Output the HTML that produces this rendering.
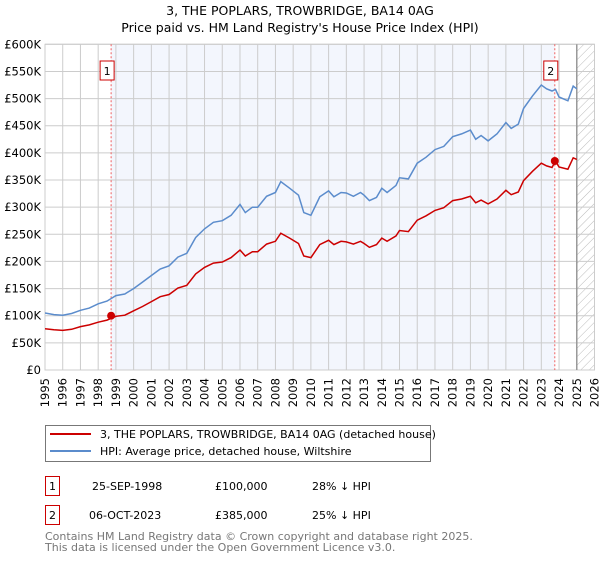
<!DOCTYPE html>
<html><head><meta charset="utf-8"><style>
body{margin:0;background:#fff;}
svg text{font-family:"DejaVu Sans","Liberation Sans",sans-serif;}
</style></head><body>
<svg id="chart" width="600" height="560" xmlns="http://www.w3.org/2000/svg">
<defs>
<pattern id="hatch" width="6" height="6" patternUnits="userSpaceOnUse" patternTransform="rotate(45)">
<line x1="0" y1="0" x2="0" y2="6" stroke="#bbb" stroke-width="1"/></pattern>
<clipPath id="clip"><rect x="45" y="44" width="550" height="326"/></clipPath>
</defs>
<text x="300" y="15" text-anchor="middle" font-size="12.5">3, THE POPLARS, TROWBRIDGE, BA14 0AG</text>
<text x="300" y="32" text-anchor="middle" font-size="12.5">Price paid vs. HM Land Registry's House Price Index (HPI)</text>
<g id="plot"></g>
<g>
<rect x="45.5" y="425.5" width="385" height="36" fill="#fff" stroke="#777"/>
<line x1="50" y1="434" x2="91" y2="434" stroke="#cc0000" stroke-width="2"/>
<text x="100" y="438" font-size="11">3, THE POPLARS, TROWBRIDGE, BA14 0AG (detached house)</text>
<line x1="50" y1="451" x2="91" y2="451" stroke="#5b8ccc" stroke-width="2"/>
<text x="100" y="455" font-size="11">HPI: Average price, detached house, Wiltshire</text>
</g>
<g font-size="11">
<rect x="45.5" y="476.5" width="14" height="19" fill="#fff" stroke="#cc0000"/>
<text x="52.5" y="490" text-anchor="middle">1</text>
<text x="92" y="490">25-SEP-1998</text><text x="215" y="490">£100,000</text><text x="312" y="490">28% ↓ HPI</text>
<rect x="45.5" y="505.5" width="14" height="19" fill="#fff" stroke="#cc0000"/>
<text x="52.5" y="519" text-anchor="middle">2</text>
<text x="89" y="519">06-OCT-2023</text><text x="215" y="519">£385,000</text><text x="312" y="519">25% ↓ HPI</text>
</g>
<text x="45" y="540" font-size="11" fill="#777">Contains HM Land Registry data © Crown copyright and database right 2025.</text>
<text x="45" y="551" font-size="11" fill="#777">This data is licensed under the Open Government Licence v3.0.</text>
</svg>
<script>
const dates=[1995,1995.5,1996,1996.5,1997,1997.5,1998,1998.5,1999,1999.5,2000,2000.5,2001,2001.5,2002,2002.5,2003,2003.5,2004,2004.5,2005,2005.5,2006,2006.3,2006.7,2007,2007.5,2008,2008.3,2008.8,2009.3,2009.6,2010,2010.5,2011,2011.3,2011.7,2012,2012.4,2012.8,2013,2013.3,2013.7,2014,2014.3,2014.8,2015,2015.5,2016,2016.5,2017,2017.5,2018,2018.5,2019,2019.3,2019.6,2020,2020.5,2021,2021.3,2021.7,2022,2022.5,2023,2023.3,2023.6,2023.8,2024,2024.5,2024.8,2025];
const hpiValues=[105,102,101,104,110,114,122,127,137,140,150,162,174,186,192,208,215,244,260,272,275,285,305,290,300,300,320,327,347,335,322,290,285,319,330,319,327,326,320,327,322,312,318,335,327,340,354,352,381,392,406,412,430,435,442,425,432,422,435,456,445,453,482,505,525,518,514,517,503,496,523,518];
const propertyValues=[76,74,73,75,80,83,88,92,99,101,109,117,126,135,139,151,156,177,189,197,199,207,221,210,218,218,232,237,252,243,233,210,207,231,239,231,237,236,232,237,233,226,231,243,237,247,257,255,276,284,294,299,312,315,320,308,313,306,315,331,323,328,349,366,381,376,373,385,374,370,391,388];
const saleDates=[1998.73,2023.76];
const salePrices=[100,385];
const saleLabels=["1","2"];
const yTicks=[0,50,100,150,200,250,300,350,400,450,500,550,600];
const yTickLabels=["£0","£50K","£100K","£150K","£200K","£250K","£300K","£350K","£400K","£450K","£500K","£550K","£600K"];
const xTicks=[1995,1996,1997,1998,1999,2000,2001,2002,2003,2004,2005,2006,2007,2008,2009,2010,2011,2012,2013,2014,2015,2016,2017,2018,2019,2020,2021,2022,2023,2024,2025,2026];
const dataEnd=2025.0;

const X0=45,X1=594.5,Y0=370,Y1=44.3;
const xs=d=>X0+(d-1995)/(2026-1995)*(X1-X0);
const ys=v=>Y0-v/600*(Y0-Y1);
const NS="http://www.w3.org/2000/svg";
const g=document.getElementById('plot');
function mk(tag,attrs,parent){const e=document.createElementNS(NS,tag);for(const k in attrs)e.setAttribute(k,attrs[k]);(parent||g).appendChild(e);return e;}

let r=mk('rect',{x:xs(saleDates[0]),y:Y1,width:xs(saleDates[1])-xs(saleDates[0]),height:Y0-Y1,fill:'#f3f6fd'});


r=mk('rect',{x:xs(dataEnd),y:Y1,width:X1-xs(dataEnd),height:Y0-Y1,fill:'url(#hatch)'});



yTicks.forEach((t,i)=>{
 let l=mk('line',{x1:X0,x2:X1,y1:ys(t),y2:ys(t),stroke:'#ccc'});
 
 
 let tx=mk('text',{x:41,y:ys(t)+4,'text-anchor':'end','font-size':'11.5'});
 tx.textContent=yTickLabels[i];
 
 
});
xTicks.forEach(t=>{
 let l=mk('line',{x1:xs(t),x2:xs(t),y1:Y1,y2:Y0,stroke:'#ccc'});
 
 
 let tx=mk('text',{x:xs(t)+4,y:378,'text-anchor':'end','font-size':'11.5',transform:`rotate(-90 ${xs(t)+4} 378)`});
 tx.textContent=t;
 
 
});
let b=mk('rect',{x:X0,y:Y1,width:X1-X0,height:Y0-Y1,fill:'none',stroke:'#ccc'});


let el=mk('line',{x1:xs(dataEnd),x2:xs(dataEnd),y1:Y1,y2:Y0,stroke:'#999','stroke-width':1.5});



saleDates.forEach((d,i)=>{
 let l=mk('line',{x1:xs(d),x2:xs(d),y1:Y1,y2:Y0,stroke:'#f06060','stroke-dasharray':'2,2'});
 
 
 let bx=mk('rect',{x:xs(d)-11,y:61,width:14,height:19,fill:'#fff',stroke:'#cc0000'});
 
 
 let tx=mk('text',{x:xs(d)-4,y:75,'text-anchor':'middle','font-size':'11'});
 tx.textContent=saleLabels[i];
 
 
});

const pts=v=>dates.map((d,i)=>xs(d).toFixed(1)+','+ys(v[i]).toFixed(1)).join(' ');
let hp=mk('polyline',{points:pts(hpiValues),fill:'none',stroke:'#5b8ccc','stroke-width':1.5,'clip-path':'url(#clip)'});


let pp=mk('polyline',{points:pts(propertyValues),fill:'none',stroke:'#cc0000','stroke-width':1.5,'clip-path':'url(#clip)'});


saleDates.forEach((d,i)=>{
 let c=mk('circle',{cx:xs(d),cy:ys(salePrices[i]),r:4,fill:'#cc0000'});
 
 
});
</script>
</body></html>
